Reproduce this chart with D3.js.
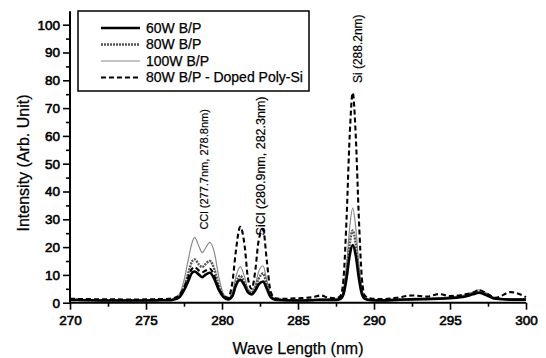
<!DOCTYPE html>
<html>
<head>
<meta charset="utf-8">
<script src="https://cdn.jsdelivr.net/npm/d3@7"></script>
<style>
  body { margin: 0; background: #fff; }
  svg { display: block; font-family: "Liberation Sans", Arial, sans-serif; }
</style>
</head>
<body>
<div id="chart"></div>
<script>
// wavelength samples (nm) shared by all series
const wavelength = [
  270, 271, 272, 273, 274, 275, 276,
  276.5, 276.8,
  277.2, 277.5, 277.8,
  278.0, 278.2, 278.5, 278.7, 278.9,
  279.2, 279.5, 279.8,
  280.1, 280.4, 280.7, 280.9,
  281.2, 281.5, 281.7, 281.95,
  282.2, 282.4, 282.7, 282.95,
  283.2, 283.5, 284, 285,
  286, 286.5, 287, 287.5,
  287.8, 288.0, 288.2, 288.4,
  288.6, 288.8, 289.0, 289.2,
  289.4, 289.8, 290.5, 291.5,
  292.5, 293.5, 294.3, 295,
  296, 296.5, 296.9, 297.4,
  298, 299, 300
];

const w60 = [
  1.0, 0.9, 0.8, 0.8, 0.8, 0.8, 0.9,
  0.9, 1.1,
  2, 4.5, 8,
  10.5, 11.2, 10, 9.2, 10,
  10.8, 8.5, 4.5,
  2, 1.2, 2.5, 6,
  8.2, 6, 3.8, 3,
  4.5, 6.5, 7.6, 5,
  2, 1.1, 0.9, 0.8,
  0.9, 1.0, 1.0, 1.0,
  1.4, 3.2, 9, 17,
  20.7, 17, 9, 3.2,
  1.4, 0.9, 0.8, 1.0,
  1.2, 1.3, 1.4, 1.6,
  2.2, 3.0, 3.6, 2.7,
  1.4, 1.1, 1.1
];

const w80 = [
  1.1, 1.0, 0.9, 0.9, 0.8, 0.9, 1.0,
  1.0, 1.2,
  2.5, 5.5, 11,
  14.5, 15.6, 13.6, 12.8, 13.8,
  15, 12, 6,
  2.5, 1.4, 3, 7,
  9.7, 7, 4.5, 3.5,
  5.5, 8.5, 10.5, 6.5,
  2.5, 1.2, 1.0, 0.9,
  1.0, 1.1, 1.1, 1.2,
  1.6, 4, 11, 21,
  26, 21, 11, 4,
  1.6, 1.0, 0.9, 1.1,
  1.3, 1.4, 1.6, 1.8,
  2.5, 3.4, 4.0, 3.0,
  1.5, 1.2, 1.2
];

const w100 = [
  1.2, 1.1, 1.0, 0.9, 0.9, 1.0, 1.0,
  1.1, 1.4,
  3, 8, 16,
  21, 23.5, 20, 18, 19.5,
  21.7, 18, 9,
  3, 1.6, 4, 9,
  13, 9, 5, 4,
  6.5, 11, 13.3, 8,
  3, 1.4, 1.1, 1.0,
  1.1, 1.2, 1.2, 1.3,
  1.8, 5, 14, 27,
  34, 27, 14, 5,
  1.8, 1.1, 1.0, 1.2,
  1.5, 1.6, 1.8, 2.0,
  2.8, 3.8, 4.6, 3.5,
  1.6, 1.3, 1.4
];

const doped = [
  1.4, 1.3, 1.2, 1.2, 1.1, 1.2, 1.3,
  1.4, 1.6,
  2.8, 5.5, 9.5,
  12, 12.8, 11.5, 11, 11.5,
  12.2, 9.5, 5,
  2.5, 1.8, 8, 18,
  27.3, 20, 9, 5,
  12, 22, 26.4, 15,
  4, 1.6, 1.4, 1.6,
  2.0, 2.6, 1.8, 1.6,
  2.5, 9, 31, 60,
  75.5, 60, 31, 9,
  2.5, 1.5, 1.3, 1.8,
  2.6, 2.2, 3.1, 2.4,
  3.0, 3.6, 4.5, 3.4,
  1.8, 3.8, 2.0
];

const seriesNames = ['60W B/P', '80W B/P', '100W B/P', '80W B/P - Doped Poly-Si'];
const peakLabels = [
  { text: 'CCl (277.7nm, 278.8nm)', x: 278.85, y: 26.3, size: 11 },
  { text: 'SiCl (280.9nm, 282.3nm)', x: 282.55, y: 24.2, size: 12.5 },
  { text: 'Si (288.2nm)', x: 288.95, y: 79, size: 12 }
];

const width = 546, height = 358;

const svg = d3.select('#chart').append('svg')
  .attr('width', width)
  .attr('height', height);

const x = d3.scaleLinear().domain([270, 300]).range([70, 526]);
const y = d3.scaleLinear().domain([0, 100]).range([302.7, 24.7]);

// series drawn back to front
const styles = [
  { data: w100, stroke: '#8a8a8a', width: 1.2, dash: null },
  { data: w80, stroke: '#555', width: 2.4, dash: '2,1' },
  { data: w60, stroke: '#000', width: 2.6, dash: null },
  { data: doped, stroke: '#000', width: 2.1, dash: '5,3' }
];

const line = d3.line()
  .x((d, i) => x(wavelength[i]))
  .y(d => y(d))
  .curve(d3.curveMonotoneX);

styles.forEach(s => {
  svg.append('path')
    .datum(s.data)
    .attr('fill', 'none')
    .attr('stroke', s.stroke)
    .attr('stroke-width', s.width)
    .attr('stroke-dasharray', s.dash)
    .attr('stroke-linejoin', 'round')
    .attr('d', line);
});

// axes
const xAxis = svg.append('g')
  .attr('transform', `translate(0,${y(0)})`)
  .call(d3.axisBottom(x).tickValues(d3.range(270, 301, 5)).tickSize(7).tickPadding(6).tickFormat(d3.format('d')));
svg.append('g')
  .attr('transform', `translate(0,${y(0)})`)
  .call(d3.axisBottom(x).tickValues(d3.range(272.5, 300, 5)).tickSize(4).tickFormat(''))
  .call(g => g.select('.domain').remove());

const yAxis = svg.append('g')
  .attr('transform', `translate(${x(270)},0)`)
  .call(d3.axisLeft(y).tickValues(d3.range(0, 101, 10)).tickSize(7).tickPadding(3));
svg.append('g')
  .attr('transform', `translate(${x(270)},0)`)
  .call(d3.axisLeft(y).tickValues(d3.range(5, 101, 10)).tickSize(4).tickFormat(''))
  .call(g => g.select('.domain').remove());

// y axis line runs a little past 100
yAxis.select('.domain').attr('d', `M0,${y(0)}V${y(104.8)}`);
xAxis.select('.domain').attr('d', `M${x(270)},0H${x(300)}`);

svg.selectAll('.domain').attr('stroke', '#000').attr('stroke-width', 2);
svg.selectAll('.tick line').attr('stroke', '#000').attr('stroke-width', 1.6);
svg.selectAll('.tick text')
  .attr('fill', '#000')
  .attr('font-size', 13.5)
  .attr('font-family', '"Liberation Sans", Arial, sans-serif')
  .attr('stroke', '#000')
  .attr('stroke-width', 0.6);

// axis titles
svg.append('text')
  .attr('x', 298).attr('y', 354)
  .attr('text-anchor', 'middle')
  .attr('font-size', 16)
  .attr('stroke', '#000').attr('stroke-width', 0.25)
  .text('Wave Length (nm)');

svg.append('text')
  .attr('transform', 'translate(29,163) rotate(-90)')
  .attr('text-anchor', 'middle')
  .attr('font-size', 16)
  .attr('stroke', '#000').attr('stroke-width', 0.25)
  .text('Intensity (Arb. Unit)');

// peak annotations
peakLabels.forEach(p => {
  svg.append('text')
    .attr('transform', `translate(${x(p.x)},${y(p.y)}) rotate(-90)`)
    .attr('font-size', p.size)
    .attr('dy', '0.35em')
    .attr('stroke', '#000').attr('stroke-width', 0.2)
    .text(p.text);
});

// legend
const legend = svg.append('g');
legend.append('rect')
  .attr('x', 78).attr('y', 11)
  .attr('width', 231).attr('height', 80)
  .attr('fill', '#fff')
  .attr('stroke', '#000')
  .attr('stroke-width', 1.5);

const legendStyles = [styles[2], styles[1], styles[0], styles[3]];
seriesNames.forEach((name, i) => {
  const ly = 28 + i * 16.5;
  const s = legendStyles[i];
  legend.append('line')
    .attr('x1', 101).attr('x2', 140)
    .attr('y1', ly).attr('y2', ly)
    .attr('stroke', s.stroke)
    .attr('stroke-width', s.width)
    .attr('stroke-dasharray', s.dash);
  legend.append('text')
    .attr('x', 146).attr('y', ly)
    .attr('dy', '0.35em')
    .attr('font-size', 14)
    .attr('stroke', '#000').attr('stroke-width', 0.25)
    .text(name);
});
</script>
</body>
</html>
